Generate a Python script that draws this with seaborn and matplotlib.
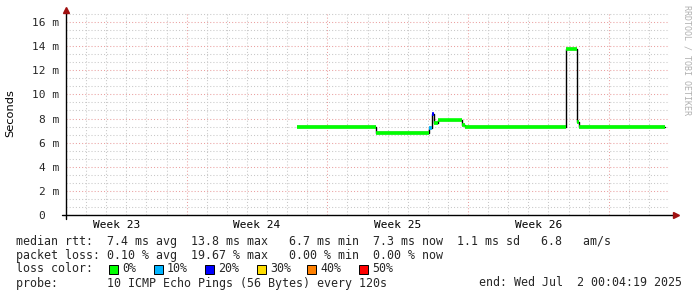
import matplotlib
matplotlib.use("Agg")
import matplotlib.pyplot as plt
from matplotlib.ticker import MultipleLocator, FixedLocator
from matplotlib.patches import Rectangle
import seaborn as sns
import pandas as pd

# ---------------- data (x in days from start of the 30-day window, y in ms) --------
seg_start = [11.5, 15.4, 18.05, 18.2, 18.33, 18.5, 19.7, 19.85, 24.9, 25.4, 25.5]
seg_end = [15.4, 18.05, 18.2, 18.33, 18.5, 19.7, 19.85, 24.9, 25.4, 25.5, 29.8]
median_ms = [7.3, 6.8, 7.25, 8.35, 7.6, 7.85, 7.45, 7.3, 13.75, 7.75, 7.3]
smoke_ms = [7.5, 6.95, 7.4, 8.45, 7.8, 8.0, 7.6, 7.5, 13.9, 7.9, 7.48]
loss_pct = [0, 0, 10, 20, 0, 0, 0, 0, 0, 0, 0]

week_labels = ["Week 23", "Week 24", "Week 25", "Week 26"]
week_centers = [2.5, 9.5, 16.5, 23.5]
week_bounds = [6, 13, 20, 27]
ytick_vals = [0, 2, 4, 6, 8, 10, 12, 14, 16]
ytick_labels = ["0  ", "2 m", "4 m", "6 m", "8 m", "10 m", "12 m", "14 m", "16 m"]

loss_legend = ["0%", "10%", "20%", "30%", "40%", "50%"]
loss_colors = ["#00ff00", "#00b4ff", "#0000ff", "#ffdd00", "#ff8000", "#ff0000"]
loss_color_map = {0: "#00ff00", 10: "#00b4ff", 20: "#0000ff", 30: "#ffdd00", 40: "#ff8000", 50: "#ff0000"}

line1 = "median rtt:  7.4 ms avg  13.8 ms max   6.7 ms min  7.3 ms now  1.1 ms sd   6.8   am/s"
line2 = "packet loss: 0.10 % avg  19.67 % max   0.00 % min  0.00 % now"
line3 = "loss color:"
line4 = "probe:       10 ICMP Echo Pings (56 Bytes) every 120s"
line4r = "end: Wed Jul  2 00:04:19 2025"

# ---------------- figure -----------------------------------------------------------
W, H = 697, 297
sns.set_theme(style="white")
plt.rcParams["font.family"] = ["DejaVu Sans Mono"]
fig = plt.figure(figsize=(W / 100, H / 100), dpi=100)
fig.patch.set_facecolor("white")

L, R, B, T = 66, 669, 215, 13
ax = fig.add_axes([L / W, (H - B) / H, (R - L) / W, (B - T) / H])
ax.set_facecolor("white")
ax.set_xlim(0, 30)
ax.set_ylim(0, 16.75)

MONO = "DejaVu Sans Mono"
FS = 8.4

# grid
ax.xaxis.set_major_locator(FixedLocator(week_bounds))
ax.xaxis.set_minor_locator(MultipleLocator(1))
ax.yaxis.set_major_locator(FixedLocator(ytick_vals))
ax.yaxis.set_minor_locator(MultipleLocator(2 / 3))
ax.grid(which="minor", color="#c8c8c8", linestyle=(0, (1, 2)), linewidth=0.75)
ax.grid(which="major", color="#eaa0a0", linestyle=(0, (1, 2)), linewidth=0.75)
ax.set_axisbelow(True)
ax.set_xticklabels([])
ax.set_yticklabels(ytick_labels, fontfamily=MONO, fontsize=8.0)
ax.tick_params(axis="both", which="major", length=3, width=0.7, color="#cc4444", pad=2)
ax.tick_params(axis="both", which="minor", length=2, width=0.6, color="#888888")
for s in ax.spines.values():
    s.set_visible(False)

# smoke (grey spread) and median
steps = pd.DataFrame({
    "day": seg_start + [seg_end[-1]],
    "median": median_ms + [median_ms[-1]],
    "smoke": smoke_ms + [smoke_ms[-1]],
})
ax.fill_between(steps["day"], steps["median"], steps["smoke"], step="post",
                color="#c4c4c4", linewidth=0, zorder=2)
sns.lineplot(data=steps, x="day", y="median", drawstyle="steps-post",
             estimator=None, color="black", linewidth=1.0, ax=ax, zorder=3)
ax.hlines(median_ms, seg_start, seg_end,
          colors=[loss_color_map[p] for p in loss_pct],
          linewidth=2.6, capstyle="butt", zorder=4)
ax.set_xlabel("")
ax.set_ylabel("")

# axes with arrows
ax.plot([-4 / 603, 1 + 4 / 603], [0, 0], transform=ax.transAxes, color="black",
        lw=1.0, clip_on=False, zorder=6)
ax.plot([0, 0], [-4 / 202, 1 + 1 / 202], transform=ax.transAxes, color="black",
        lw=1.0, clip_on=False, zorder=6)
ax.plot([1 + 7 / 603], [0], marker=">", markersize=4, color="#a01010",
        transform=ax.transAxes, clip_on=False, zorder=7)
ax.plot([0], [1 + 3 / 202], marker="^", markersize=4, color="#a01010",
        transform=ax.transAxes, clip_on=False, zorder=7)

# week labels
for c, lab in zip(week_centers, week_labels):
    ax.text(c, -10 / 202, lab, transform=ax.get_xaxis_transform(), ha="center",
            va="center", fontfamily=MONO, fontsize=8.0, color="black")


def px(x, y):
    return x / W, 1 - y / H


fig.text(*px(10, 113), "Seconds", rotation=90, ha="center", va="center",
         fontfamily="DejaVu Sans", fontsize=8.2, color="black")
fig.text(*px(687, 60), "RRDTOOL / TOBI OETIKER", rotation=270, ha="center",
         va="center", fontfamily=MONO, fontsize=6, color="#b0b0b0")

fig.text(*px(16, 241), line1, ha="left", va="center", fontfamily=MONO, fontsize=FS)
fig.text(*px(16, 255), line2, ha="left", va="center", fontfamily=MONO, fontsize=FS)
fig.text(*px(16, 269), line3, ha="left", va="center", fontfamily=MONO, fontsize=FS)
fig.text(*px(16, 283), line4, ha="left", va="center", fontfamily=MONO, fontsize=FS)
fig.text(*px(682, 283), line4r, ha="right", va="center", fontfamily=MONO, fontsize=FS)

box_x = [109, 154, 205, 257, 307, 359]
for bx, lab, col in zip(box_x, loss_legend, loss_colors):
    fig.patches.append(Rectangle(px(bx, 273.5), 9 / W, 9 / H, transform=fig.transFigure,
                                 facecolor=col, edgecolor="black", linewidth=0.7))
    fig.text(*px(bx + 13, 269), lab, ha="left", va="center", fontfamily=MONO, fontsize=FS)

fig.savefig("out.png", dpi=100, facecolor="white")
